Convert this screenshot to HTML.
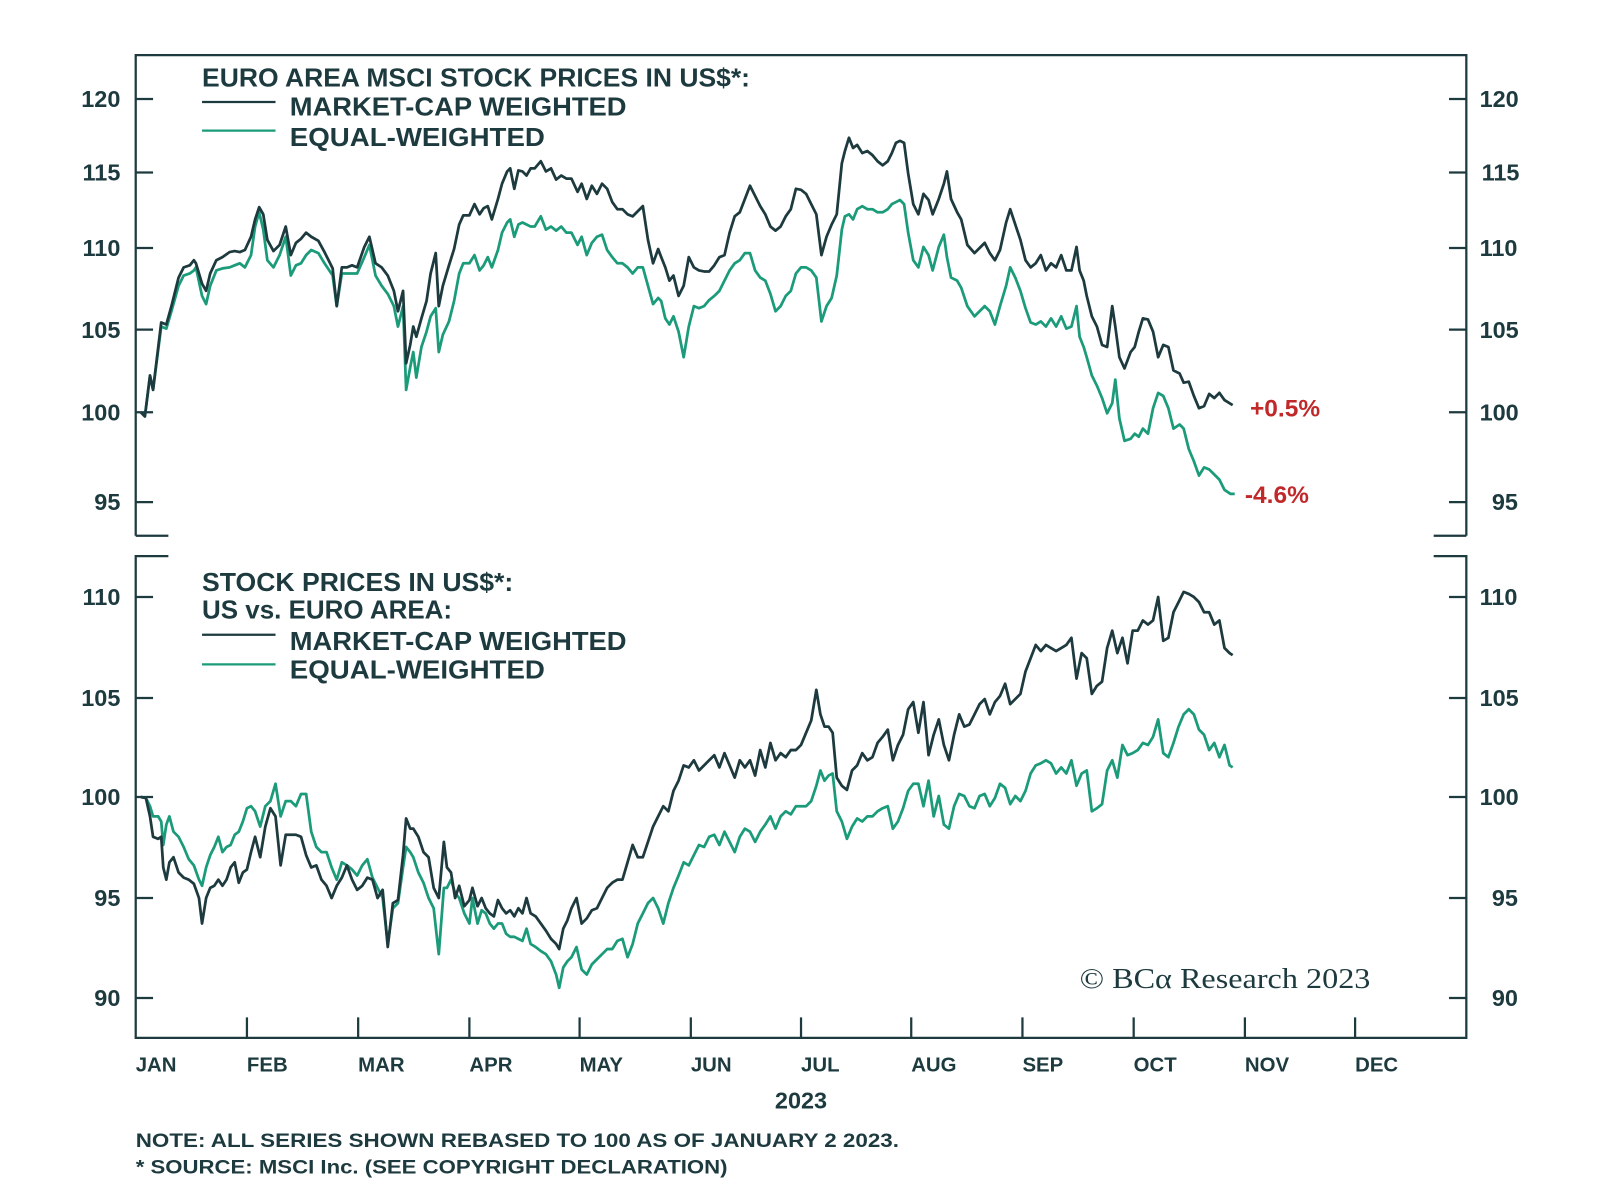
<!DOCTYPE html>
<html><head><meta charset="utf-8"><style>html,body{margin:0;padding:0;background:#fff}svg{display:block}</style></head>
<body>
<svg width="1600" height="1195" viewBox="0 0 1568 1171" preserveAspectRatio="none" xmlns="http://www.w3.org/2000/svg">
<g stroke="#1d3a3f" stroke-width="2.2" fill="none">
<path d="M133 525V54H1437V525M133 525H165M1405 525H1437"/>
<path d="M165 545H133V1017H1437V545H1405"/>
<path d="M133 97h17M133 169h17M133 243h17M133 323h17M133 404h17M133 492h17M1420 97h17M1420 169h17M1420 243h17M1420 323h17M1420 404h17M1420 492h17"/>
<path d="M133 585h17M133 684h17M133 781h17M133 880h17M133 978h17M1420 585h17M1420 684h17M1420 781h17M1420 880h17M1420 978h17"/>
<path d="M242 1017v-20M351 1017v-20M460 1017v-20M568 1017v-20M677 1017v-20M785 1017v-20M893 1017v-20M1002 1017v-20M1111 1017v-20M1220 1017v-20M1328 1017v-20"/>
<path d="M198 100h72M198 622h72"/>
</g>
<path d="M198 128h72M198 651h72" stroke="#1b9b7a" stroke-width="2.2"/>
<g font-family="Liberation Sans, sans-serif" font-weight="bold" font-size="23" fill="#1d3a3f">
<g text-anchor="end"><text x="118" y="105">120</text><text x="118" y="177">115</text><text x="118" y="251">110</text><text x="118" y="331">105</text><text x="118" y="412">100</text><text x="118" y="500">95</text>
<text x="118" y="593">110</text><text x="118" y="692">105</text><text x="118" y="789">100</text><text x="118" y="888">95</text><text x="118" y="986">90</text></g>
<text x="1450" y="105">120</text><text x="1452" y="177">115</text><text x="1450" y="251">110</text><text x="1450" y="331">105</text><text x="1450" y="412">100</text><text x="1462" y="500">95</text>
<text x="1450" y="593">110</text><text x="1450" y="692">105</text><text x="1450" y="789">100</text><text x="1462" y="888">95</text><text x="1462" y="986">90</text>
<g font-size="20"><text x="133" y="1050">JAN</text><text x="242" y="1050">FEB</text><text x="351" y="1050">MAR</text><text x="460" y="1050">APR</text><text x="568" y="1050">MAY</text><text x="677" y="1050">JUN</text><text x="785" y="1050">JUL</text><text x="893" y="1050">AUG</text><text x="1002" y="1050">SEP</text><text x="1111" y="1050">OCT</text><text x="1220" y="1050">NOV</text><text x="1328" y="1050">DEC</text></g>
<text x="785" y="1086" text-anchor="middle" font-size="23">2023</text>
<text x="133" y="1124" font-size="19" textLength="748" lengthAdjust="spacingAndGlyphs">NOTE: ALL SERIES SHOWN REBASED TO 100 AS OF JANUARY 2 2023.</text>
<text x="133" y="1150" font-size="19" textLength="580" lengthAdjust="spacingAndGlyphs">* SOURCE: MSCI Inc. (SEE COPYRIGHT DECLARATION)</text>
<g font-size="25">
<text x="198" y="85" textLength="537" lengthAdjust="spacingAndGlyphs">EURO AREA MSCI STOCK PRICES IN US$*:</text>
<text x="284" y="113" textLength="330" lengthAdjust="spacingAndGlyphs">MARKET-CAP WEIGHTED</text>
<text x="284" y="143" textLength="250" lengthAdjust="spacingAndGlyphs">EQUAL-WEIGHTED</text>
<text x="198" y="579" textLength="305" lengthAdjust="spacingAndGlyphs">STOCK PRICES IN US$*:</text>
<text x="198" y="606" textLength="245" lengthAdjust="spacingAndGlyphs">US vs. EURO AREA:</text>
<text x="284" y="637" textLength="330" lengthAdjust="spacingAndGlyphs">MARKET-CAP WEIGHTED</text>
<text x="284" y="665" textLength="250" lengthAdjust="spacingAndGlyphs">EQUAL-WEIGHTED</text>
</g>
<g fill="#c0282a" font-size="24"><text x="1225" y="408">+0.5%</text><text x="1220" y="493">-4.6%</text></g>
</g>
<text x="1058" y="968" font-family="Liberation Serif, serif" font-size="28" fill="#1d3a3f" textLength="285" lengthAdjust="spacingAndGlyphs">© BCα Research 2023</text>
<g fill="none" stroke-width="2.7" stroke-linejoin="round">
<polyline stroke="#1b9b7a" points="138,404 142,408 147,368 150,382 158,320 163,322 168,305 175,280 180,270 186,268 190,265 192,262 198,290 202,298 206,280 212,265 218,263 225,262 230,260 235,258 240,262 246,250 250,222 254,208 258,225 262,255 268,262 274,250 280,232 285,270 290,260 295,258 300,250 305,245 312,248 318,258 326,270 330,300 335,268 340,268 345,268 350,268 357,252 362,240 368,270 374,280 380,288 386,300 390,320 395,300 398,382 402,360 405,345 408,370 413,340 418,325 422,310 427,302 430,345 434,328 440,315 445,295 450,268 454,258 460,258 465,250 470,265 474,260 478,252 482,262 488,245 492,228 497,218 500,215 504,232 508,220 512,218 516,220 520,222 524,222 530,212 535,225 540,222 545,226 550,222 555,228 560,228 566,240 570,232 575,250 580,238 585,232 590,230 595,245 600,252 605,258 610,258 615,262 620,268 625,262 630,262 635,280 640,298 645,292 648,295 652,312 656,318 660,310 665,325 670,350 675,320 680,300 685,302 690,300 695,294 700,290 705,285 710,275 715,265 720,258 725,255 730,248 735,248 740,265 745,272 750,275 755,288 760,305 765,300 770,290 775,285 780,268 785,262 790,262 795,265 800,272 805,315 810,300 815,292 820,270 825,225 828,212 832,210 836,215 840,205 845,202 850,205 855,205 860,208 865,208 870,205 874,200 878,198 882,196 886,200 890,228 895,255 900,262 905,242 910,250 914,265 920,242 925,230 928,252 932,272 938,275 942,282 948,300 955,310 960,305 965,300 970,305 975,318 980,300 986,280 990,262 995,272 1000,285 1005,302 1010,316 1015,318 1020,315 1025,320 1030,312 1035,320 1040,310 1045,322 1050,320 1055,300 1058,330 1062,340 1065,350 1070,368 1075,378 1080,390 1085,405 1090,395 1093,372 1097,410 1102,432 1108,430 1112,425 1116,428 1120,420 1125,425 1130,400 1135,385 1140,388 1145,400 1150,420 1156,416 1160,420 1165,440 1170,452 1175,466 1180,458 1185,460 1190,465 1195,470 1200,480 1206,484 1210,484"/>
<polyline stroke="#1d3a3f" points="138,404 142,408 147,368 150,382 158,316 163,318 168,300 175,272 180,262 186,260 190,255 192,258 198,278 202,285 206,268 212,255 218,252 225,247 230,246 235,247 240,245 246,232 250,215 254,203 258,210 262,235 268,246 274,240 280,222 285,250 290,238 295,234 300,228 305,232 312,236 318,247 326,263 330,300 335,262 340,262 345,260 350,262 357,242 362,232 368,258 374,262 380,270 386,285 390,305 395,285 398,356 402,338 405,320 408,330 413,312 418,295 422,268 427,248 430,300 434,280 440,260 445,244 450,220 454,211 460,211 465,200 470,210 474,204 478,202 482,215 488,195 492,180 497,168 500,165 504,185 508,167 512,168 516,172 520,165 524,165 530,158 535,168 540,165 545,176 550,172 555,175 560,175 566,188 570,180 575,195 580,182 585,190 590,180 595,185 600,198 605,205 610,205 615,210 620,212 625,207 630,202 635,235 640,258 645,244 648,252 652,262 656,275 660,270 665,290 670,280 675,252 680,262 685,265 690,266 695,266 700,260 705,252 710,250 715,228 720,212 725,208 730,195 735,182 740,192 745,202 750,210 755,222 760,226 765,222 770,212 775,205 780,185 785,186 790,190 795,200 800,210 805,250 810,232 815,220 820,210 825,160 828,148 832,135 836,145 840,142 845,150 850,148 855,152 860,158 865,162 870,158 874,150 878,140 882,138 886,140 890,170 895,200 900,210 905,190 910,196 914,210 920,195 925,180 928,168 932,195 938,208 942,215 948,240 955,248 960,243 965,238 970,248 975,255 980,245 986,218 990,205 995,220 1000,235 1005,255 1010,262 1015,258 1020,250 1025,265 1030,258 1035,262 1040,250 1045,265 1050,265 1055,242 1058,265 1062,275 1065,290 1070,310 1075,320 1080,338 1085,340 1090,300 1093,320 1097,350 1102,361 1108,345 1112,340 1116,325 1120,312 1125,313 1130,325 1135,350 1140,338 1145,340 1150,363 1156,366 1160,375 1165,374 1170,388 1175,400 1180,398 1185,386 1190,390 1195,385 1200,392 1208,397"/>
<polyline stroke="#1b9b7a" points="138,781 143,782 147,790 150,800 155,800 158,805 160,828 163,808 166,800 170,815 175,820 180,830 185,842 190,848 195,862 198,868 202,850 206,838 210,830 214,820 218,835 222,830 226,828 230,818 234,815 238,805 242,792 246,790 250,795 255,810 260,790 265,785 270,768 275,800 280,785 285,785 290,790 295,778 300,778 305,815 310,830 315,835 320,835 325,850 330,862 335,845 340,848 345,852 350,858 355,848 360,842 365,860 370,870 375,880 380,925 385,890 390,885 395,850 398,830 402,835 405,840 410,855 415,865 420,880 425,890 430,935 435,870 438,870 442,862 446,875 450,880 455,895 460,905 463,880 468,905 472,892 476,895 480,905 484,910 488,905 492,905 496,915 500,918 504,918 508,920 512,922 516,910 520,925 525,928 530,932 535,935 540,942 545,955 548,968 552,948 556,942 560,938 565,928 570,950 575,955 580,945 585,940 590,935 595,930 600,930 605,922 610,920 615,938 620,925 625,905 630,895 635,885 640,880 645,890 650,905 655,885 660,870 665,858 670,845 675,848 680,838 685,828 690,830 695,820 700,818 705,828 710,815 715,825 720,835 725,820 730,812 735,815 740,825 745,815 750,808 755,800 760,812 765,800 770,795 775,798 780,790 785,790 790,790 795,785 800,770 804,755 808,765 812,760 816,758 820,795 825,805 830,822 835,810 840,802 845,805 850,800 855,800 860,795 865,792 870,790 875,812 880,805 885,792 890,775 895,768 900,768 905,790 910,765 915,800 920,780 925,808 930,812 935,790 940,778 945,780 950,790 955,792 960,780 965,778 970,790 975,782 980,768 985,772 990,788 995,780 1000,785 1005,775 1010,758 1015,750 1020,748 1025,745 1030,748 1035,758 1040,752 1045,758 1050,745 1055,770 1060,758 1065,755 1070,795 1075,792 1080,788 1085,755 1090,745 1095,762 1100,730 1105,740 1110,738 1115,735 1120,728 1125,730 1130,722 1135,705 1140,738 1145,742 1150,728 1155,712 1160,700 1165,695 1170,700 1175,715 1180,720 1185,735 1190,728 1195,742 1200,730 1205,750 1208,752"/>
<polyline stroke="#1d3a3f" points="138,781 143,782 147,800 150,820 155,822 158,820 160,850 163,862 166,845 170,840 175,855 180,860 185,862 190,866 195,880 198,905 202,880 206,870 210,868 214,862 218,868 222,862 226,850 230,845 234,865 238,855 242,852 246,835 250,820 255,840 260,810 265,792 270,800 275,848 280,818 285,818 290,818 295,820 300,838 305,850 310,848 315,862 320,868 325,880 330,868 335,860 340,848 345,862 350,872 355,868 360,860 365,862 370,880 375,872 380,928 385,885 390,882 395,838 398,802 402,812 405,812 410,820 415,835 420,840 425,870 430,880 435,825 438,850 442,855 446,880 450,868 455,888 460,882 463,870 468,888 472,880 476,890 480,895 484,898 488,882 492,890 496,895 500,892 504,898 508,890 512,895 516,880 520,895 525,898 530,905 535,912 540,920 545,925 548,930 552,910 556,902 560,890 565,880 570,905 575,900 580,892 585,890 590,880 595,870 600,865 605,862 610,862 615,845 620,828 625,840 630,840 635,825 640,810 645,800 650,790 655,795 660,775 665,765 670,750 675,752 680,745 685,755 690,750 695,745 700,740 705,752 710,738 715,750 720,762 725,745 730,752 735,745 740,760 745,735 750,752 755,728 760,745 765,738 770,742 775,735 780,735 785,730 790,718 795,706 800,676 804,700 808,712 812,712 816,718 820,762 825,770 830,774 835,755 840,750 845,738 850,745 855,742 860,728 865,722 870,715 875,745 880,730 885,720 890,695 895,688 900,718 905,688 910,740 915,720 920,705 925,730 930,745 935,720 940,700 945,712 950,710 955,700 960,690 965,685 970,700 975,688 980,682 985,670 990,690 995,685 1000,680 1005,658 1010,645 1015,632 1020,638 1025,632 1030,635 1035,638 1040,635 1045,632 1050,625 1055,665 1060,640 1065,645 1070,680 1075,672 1080,668 1085,635 1090,618 1095,640 1100,625 1105,650 1110,618 1115,618 1120,608 1125,612 1130,608 1135,585 1140,628 1145,625 1150,600 1155,590 1160,580 1165,582 1170,585 1175,590 1180,600 1185,600 1190,612 1195,608 1200,635 1205,640 1208,642"/>
</g>
</svg>
</body></html>
